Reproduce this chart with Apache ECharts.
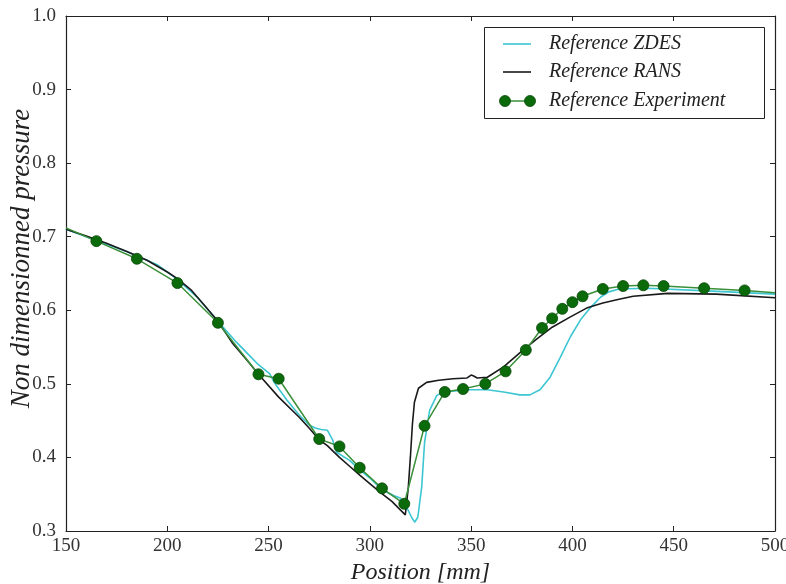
<!DOCTYPE html>
<html>
<head>
<meta charset="utf-8">
<script src="https://cdn.jsdelivr.net/npm/echarts@6/dist/echarts.min.js"></script>
<style>html,body{margin:0;padding:0;background:#fff}#c{width:786px;height:584px}</style>
</head>
<body>
<div id="c"></div>
<script>
// ---- data ----
var xTicks = [150, 200, 250, 300, 350, 400, 450, 500];
var yTicks = [0.3, 0.4, 0.5, 0.6, 0.7, 0.8, 0.9, 1.0];

var zdesX = [150,165,180,195,205,215,225,234,240,245,250.5,253,259,265,270,273,276,279,281.6,283.5,290,295,300,306,312,315,318,320.7,322.2,323.7,325.6,327,329.5,333,336,349,358,366,374,379,384,389,394,399,404,409,414,418,423,437,469,500];
var zdesY = [0.710,0.695,0.680,0.662,0.642,0.617,0.585,0.557,0.540,0.526,0.514,0.501,0.478,0.458,0.444,0.440,0.438,0.437,0.424,0.407,0.396,0.383,0.372,0.356,0.348,0.345,0.333,0.318,0.312,0.319,0.360,0.420,0.464,0.484,0.489,0.492,0.492,0.489,0.485,0.485,0.492,0.509,0.536,0.564,0.587,0.604,0.618,0.625,0.629,0.630,0.626,0.622];

var ransX = [150,160,170,180,190,200,205,212,218,225,232,240,245,255,265,270,275,279,285,290,295,301,305,311,317.5,319,320,321,322,324,328,334,341,348,350,351,353,358,366,374,382,390,399,407,415,423,430,447,471,500];
var ransY = [0.710,0.701,0.691,0.680,0.668,0.652,0.643,0.627,0.608,0.585,0.556,0.530,0.513,0.482,0.455,0.440,0.424,0.416,0.400,0.388,0.376,0.362,0.353,0.340,0.322,0.360,0.400,0.445,0.475,0.494,0.502,0.505,0.507,0.508,0.512,0.511,0.508,0.509,0.523,0.542,0.560,0.577,0.591,0.603,0.610,0.615,0.619,0.623,0.622,0.617];

var expX = [165,185,205,225,245,255,275,285,295,306,317,327,337,346,357,367,377,385,390,395,400,405,415,425,435,445,465,485];
var expY = [0.694,0.670,0.637,0.583,0.513,0.507,0.425,0.415,0.386,0.358,0.337,0.443,0.489,0.493,0.500,0.517,0.546,0.576,0.589,0.602,0.611,0.619,0.629,0.633,0.634,0.633,0.630,0.627];
// line continues to the plot edges (no marker visible there)
var expEdgeLeft = [150, 0.712];
var expEdgeRight = [500, 0.624];

var seriesNames = ['Reference ZDES', 'Reference RANS', 'Reference Experiment'];

function pairs(xs, ys) { return xs.map(function (x, i) { return [x, ys[i]]; }); }

var expData = [{ value: expEdgeLeft, symbol: 'none' }]
  .concat(pairs(expX, expY))
  .concat([{ value: expEdgeRight, symbol: 'none' }]);

var serif = 'Liberation Serif';
var axisCol = '#222';
var cZdes = '#3cc6d2', cRans = '#1a1a1a', cExpLine = '#3a8f3a', cExpMark = '#0b6b0b', cExpEdge = '#064806';

// legend (drawn as graphic so the experiment sample shows two markers like the original)
var legTextStyle = { fontFamily: serif, fontStyle: 'italic', fontSize: 20, fill: '#222', verticalAlign: 'middle', align: 'left' };
var legendGraphic = [
  { type: 'rect', shape: { x: 484.5, y: 27.5, width: 280, height: 91 }, style: { fill: '#fff', stroke: '#222', lineWidth: 1 }, z: 100 },
  { type: 'line', shape: { x1: 503, y1: 44, x2: 531, y2: 44 }, style: { stroke: cZdes, lineWidth: 1.6 }, z: 101 },
  { type: 'line', shape: { x1: 503, y1: 72, x2: 531, y2: 72 }, style: { stroke: cRans, lineWidth: 1.6 }, z: 101 },
  { type: 'line', shape: { x1: 505, y1: 101, x2: 530, y2: 101 }, style: { stroke: cExpLine, lineWidth: 1.5 }, z: 101 },
  { type: 'circle', shape: { cx: 505, cy: 101, r: 5.5 }, style: { fill: cExpMark, stroke: cExpEdge, lineWidth: 0.8 }, z: 102 },
  { type: 'circle', shape: { cx: 530, cy: 101, r: 5.5 }, style: { fill: cExpMark, stroke: cExpEdge, lineWidth: 0.8 }, z: 102 },
  { type: 'text', x: 549, y: 44, style: Object.assign({ text: seriesNames[0] }, legTextStyle), z: 101 },
  { type: 'text', x: 549, y: 72, style: Object.assign({ text: seriesNames[1] }, legTextStyle), z: 101 },
  { type: 'text', x: 549, y: 101, style: Object.assign({ text: seriesNames[2] }, legTextStyle), z: 101 }
];

var chart = echarts.init(document.getElementById('c'), null, { renderer: 'canvas' });
chart.setOption({
  animation: false,
  backgroundColor: '#fff',
  grid: { left: 66, right: 11, top: 16, bottom: 53, containLabel: false, outerBoundsMode: 'none' },
  graphic: legendGraphic,
  xAxis: [{
    type: 'value', min: 150, max: 500, interval: 50,
    axisLine: { show: true, onZero: false, lineStyle: { color: axisCol, width: 1.2 } },
    axisTick: { show: true, inside: true, length: 5, lineStyle: { color: axisCol } },
    axisLabel: { fontFamily: serif, fontSize: 19, color: '#333', margin: 6 },
    splitLine: { show: false },
    name: 'Position [mm]', nameLocation: 'middle', nameGap: 30, nameMoveOverlap: false,
    nameTextStyle: { fontFamily: serif, fontStyle: 'italic', fontSize: 24, color: '#222' }
  }, {
    type: 'value', min: 150, max: 500, interval: 50, position: 'top',
    axisLine: { show: true, onZero: false, lineStyle: { color: axisCol, width: 1.2 } },
    axisTick: { show: true, inside: true, length: 5, lineStyle: { color: axisCol } },
    axisLabel: { show: false }, splitLine: { show: false }
  }],
  yAxis: [{
    type: 'value', min: 0.3, max: 1.0, interval: 0.1,
    axisLine: { show: true, onZero: false, lineStyle: { color: axisCol, width: 1.2 } },
    axisTick: { show: true, inside: true, length: 5, lineStyle: { color: axisCol } },
    axisLabel: { fontFamily: serif, fontSize: 19, color: '#333', margin: 10,
      formatter: function (v) { return v.toFixed(1); } },
    splitLine: { show: false },
    name: 'Non dimensionned pressure', nameLocation: 'middle', nameGap: 31, nameRotate: 90, nameMoveOverlap: false,
    nameTextStyle: { fontFamily: serif, fontStyle: 'italic', fontSize: 27, color: '#222', padding: [0, 0, 0, 30] }
  }, {
    type: 'value', min: 0.3, max: 1.0, interval: 0.1, position: 'right',
    axisLine: { show: true, onZero: false, lineStyle: { color: axisCol, width: 1.2 } },
    axisTick: { show: true, inside: true, length: 5, lineStyle: { color: axisCol } },
    axisLabel: { show: false }, splitLine: { show: false }
  }],
  series: [{
    name: seriesNames[0], type: 'line', data: pairs(zdesX, zdesY),
    showSymbol: false, symbol: 'none', clip: true,
    lineStyle: { color: cZdes, width: 1.6 }, itemStyle: { color: cZdes }, z: 2
  }, {
    name: seriesNames[1], type: 'line', data: pairs(ransX, ransY),
    showSymbol: false, symbol: 'none', clip: true,
    lineStyle: { color: cRans, width: 1.6 }, itemStyle: { color: cRans }, z: 3
  }, {
    name: seriesNames[2], type: 'line', data: expData,
    symbol: 'circle', symbolSize: 11, clip: true,
    lineStyle: { color: cExpLine, width: 1.5 },
    itemStyle: { color: cExpMark, borderColor: cExpEdge, borderWidth: 0.8 }, z: 4
  }]
});
</script>
</body>
</html>
